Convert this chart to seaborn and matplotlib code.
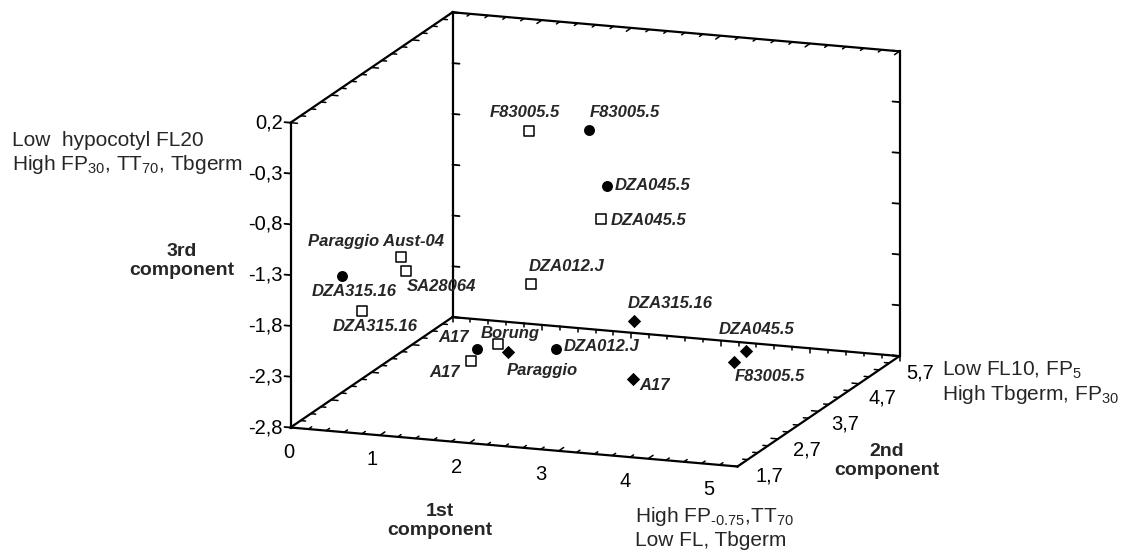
import numpy as np
import pandas as pd
import matplotlib as mpl
import matplotlib.pyplot as plt
import seaborn as sns

# Component scores (PC1, PC2, PC3)
circle_names = ["F83005.5", "DZA045.5", "DZA315.16", "A17", "DZA012.J"]
circle_pc1 = [2.21, 2.18, 0.35, 1.41, 2.06]
circle_pc2 = [4.2, 4.7, 2.2, 3.2, 3.7]
circle_pc3 = [-0.38, -1.07, -1.42, -2.33, -2.41]

square_names = ["F83005.5", "DZA045.5", "Paraggio Aust-04", "SA28064",
                "DZA012.J", "DZA315.16", "Borung", "A17"]
square_pc1 = [1.31, 2.34, 0.56, 0.70, 1.56, 0.57, 1.41, 1.57]
square_pc2 = [4.7, 4.2, 3.2, 3.0, 4.2, 2.2, 3.7, 2.7]
square_pc3 = [-0.60, -1.25, -1.49, -1.56, -1.95, -1.75, -2.41, -2.30]

diamond_names = ["DZA315.16", "Paraggio", "A17", "DZA045.5", "F83005.5"]
diamond_pc1 = [3.16, 1.98, 3.61, 4.87, 4.73]
diamond_pc2 = [3.2, 2.7, 2.2, 2.2, 2.2]
diamond_pc3 = [-1.92, -2.18, -2.18, -1.81, -1.93]

# Axis ranges and tick values
x_ticks = [0, 1, 2, 3, 4, 5]
y_ticks = [1.7, 2.7, 3.7, 4.7, 5.7]
z_ticks = [0.2, -0.3, -0.8, -1.3, -1.8, -2.3, -2.8]
X_MIN, X_MAX = 0, 5
Y_MIN, Y_MAX = 1.7, 5.7
Z_MIN, Z_MAX = -2.8, 0.2

# label offsets (pixels) and alignment for each point label
circle_lab = [(0, -17, "left"), (8, 0, "left"), (12, 15, "center"), (-8, -12, "right"), (8, -2, "left")]
square_lab = [(-4, -19, "center"), (10, 1, "left"), (-25, -16, "center"), (1, 15, "left"),
              (-3, -18, "left"), (13, 15, "center"), (13, -10, "center"), (-12, 11, "right")]
diamond_lab = [(-6, -18, "left"), (-1, 18, "left"), (6, 7, "left"), (-27, -22, "left"), (1, 14, "left")]

sns.set_style("white")
plt.rcParams["font.family"] = ["Liberation Sans", "DejaVu Sans"]
plt.rcParams["mathtext.fontset"] = "custom"
plt.rcParams["mathtext.rm"] = "Liberation Sans"

fig = plt.figure(figsize=(11.33, 5.54), dpi=100)
ax = fig.add_axes([0, 0, 1, 1])

# oblique projection of the 3D box onto the page (pixel units)
ORIGIN = (290.5, 427.5)
EX = (89.4, 7.8)
EY = (40.5, -27.6)
EZ = (0.0, -101.6)


def proj(x, y, z):
    x = np.asarray(x, float) - X_MIN
    y = np.asarray(y, float) - Y_MIN
    z = np.asarray(z, float) - Z_MIN
    px = ORIGIN[0] + EX[0] * x + EY[0] * y + EZ[0] * z
    py = ORIGIN[1] + EX[1] * x + EY[1] * y + EZ[1] * z
    return px, py


def unit(v):
    v = np.array(v, float)
    return v / np.hypot(*v)


ux, uy, uz = unit(EX), unit(EY), unit(EZ)

# box edges
edges = [
    ((X_MIN, Y_MIN, Z_MIN), (X_MIN, Y_MIN, Z_MAX)),
    ((X_MIN, Y_MIN, Z_MAX), (X_MIN, Y_MAX, Z_MAX)),
    ((X_MIN, Y_MAX, Z_MIN), (X_MIN, Y_MAX, Z_MAX)),
    ((X_MIN, Y_MAX, Z_MAX), (X_MAX, Y_MAX, Z_MAX)),
    ((X_MAX, Y_MAX, Z_MIN), (X_MAX, Y_MAX, Z_MAX)),
    ((X_MIN, Y_MIN, Z_MIN), (X_MAX, Y_MIN, Z_MIN)),
    ((X_MAX, Y_MIN, Z_MIN), (X_MAX, Y_MAX, Z_MIN)),
    ((X_MIN, Y_MIN, Z_MIN), (X_MIN, Y_MAX, Z_MIN)),
    ((X_MIN, Y_MAX, Z_MIN), (X_MAX, Y_MAX, Z_MIN)),
]
for a, b in edges:
    pa, pb = proj(*a), proj(*b)
    ax.plot([pa[0], pb[0]], [pa[1], pb[1]], color="black", lw=1.6,
            solid_capstyle="projecting", zorder=2)


def tick(x, y, z, d, length, lw=1.1):
    px, py = proj(x, y, z)
    ax.plot([px, px + d[0] * length], [py, py + d[1] * length],
            color="black", lw=lw, zorder=2)


# vertical (3rd component) ticks
for z in z_ticks:
    tick(X_MIN, Y_MIN, z, -ux, 6, 1.3)
    tick(X_MIN, Y_MAX, z, ux, 7, 1.3)
    tick(X_MAX, Y_MAX, z, -ux, 7, 1.3)

# 1st component ticks along the x edges
for x in np.arange(X_MIN, X_MAX + 0.01, 0.2):
    major = abs(x - round(x)) < 1e-6
    tick(x, Y_MIN, Z_MIN, uy, 6 if major else 4)
    tick(x, Y_MAX, Z_MAX, -uy, 6 if major else 4)
    tick(x, Y_MAX, Z_MIN, -uz, 5 if major else 3.5)

# 2nd component ticks along the y edges
for y in np.arange(Y_MIN, Y_MAX + 0.01, 0.25):
    major = abs((y - Y_MIN) - round(y - Y_MIN)) < 1e-6
    tick(X_MIN, y, Z_MAX, ux, 7 if major else 5)
    tick(X_MIN, y, Z_MIN, ux, 7 if major else 5)
    tick(X_MAX, y, Z_MIN, -ux, 7 if major else 5)

# tick labels
tick_font = dict(fontsize=14.5, color="black")
for z in z_ticks:
    px, py = proj(X_MIN, Y_MIN, z)
    ax.text(px - 8, py, f"{z:.1f}".replace(".", ","), ha="right", va="center", **tick_font)
for x in x_ticks:
    px, py = proj(X_MIN + (x - X_MIN) * 0.94, Y_MIN, Z_MIN)
    ax.text(px - 2, py + 25, str(x), ha="center", va="center", **tick_font)
for y in y_ticks:
    px, py = proj(X_MAX, Y_MIN + (y - Y_MIN) * 0.93, Z_MIN)
    ax.text(px + 32, py + 9, f"{y:.1f}".replace(".", ","), ha="center", va="center", **tick_font)

# axis titles
title_font = dict(fontsize=14, fontweight="bold", ha="center", va="center", linespacing=1.2)
ax.text(182, 261, "3rd\ncomponent", **title_font)
ax.text(440, 521, "1st\ncomponent", **title_font)
ax.text(887, 461, "2nd\ncomponent", **title_font)

# pole descriptions
desc_font = dict(fontsize=15, ha="left", va="center")
ax.text(12, 140, "Low  hypocotyl FL20", **desc_font)
ax.text(12, 165, r"High FP$_{\mathregular{30}}$, TT$_{\mathregular{70}}$, Tbgerm", **desc_font)
ax.text(942, 370, r"Low FL10, FP$_{\mathregular{5}}$", **desc_font)
ax.text(942, 395, r"High Tbgerm, FP$_{\mathregular{30}}$", **desc_font)
ax.text(635, 516, "High FP$_{\\mathregular{\u20100.75}}$,TT$_{\\mathregular{70}}$", **desc_font)
ax.text(635, 540, "Low FL, Tbgerm", **desc_font)

# points
groups = [
    (circle_names, circle_pc1, circle_pc2, circle_pc3, circle_lab, "o", 62, "black", 0),
    (square_names, square_pc1, square_pc2, square_pc3, square_lab, "s", 44, "white", 1.1),
    (diamond_names, diamond_pc1, diamond_pc2, diamond_pc3, diamond_lab, "D", 46, "black", 0),
]
for names, p1, p2, p3, labs, marker, size, face, lw in groups:
    px, py = proj(p1, p2, p3)
    df = pd.DataFrame({"px": px, "py": py, "name": names})
    sns.scatterplot(data=df, x="px", y="py", marker=marker, s=size, color=face,
                    edgecolor="black", linewidth=lw, ax=ax, legend=False, zorder=3)
    for (_, row), (dx, dy, ha) in zip(df.iterrows(), labs):
        ax.text(row.px + dx, row.py + dy, row["name"], ha=ha, va="center",
                fontsize=12, fontweight="bold", fontstyle="italic", zorder=4)

ax.set_xlim(0, 1133)
ax.set_ylim(554, 0)
ax.axis("off")

fig.savefig("out.png", dpi=100, facecolor="white")
